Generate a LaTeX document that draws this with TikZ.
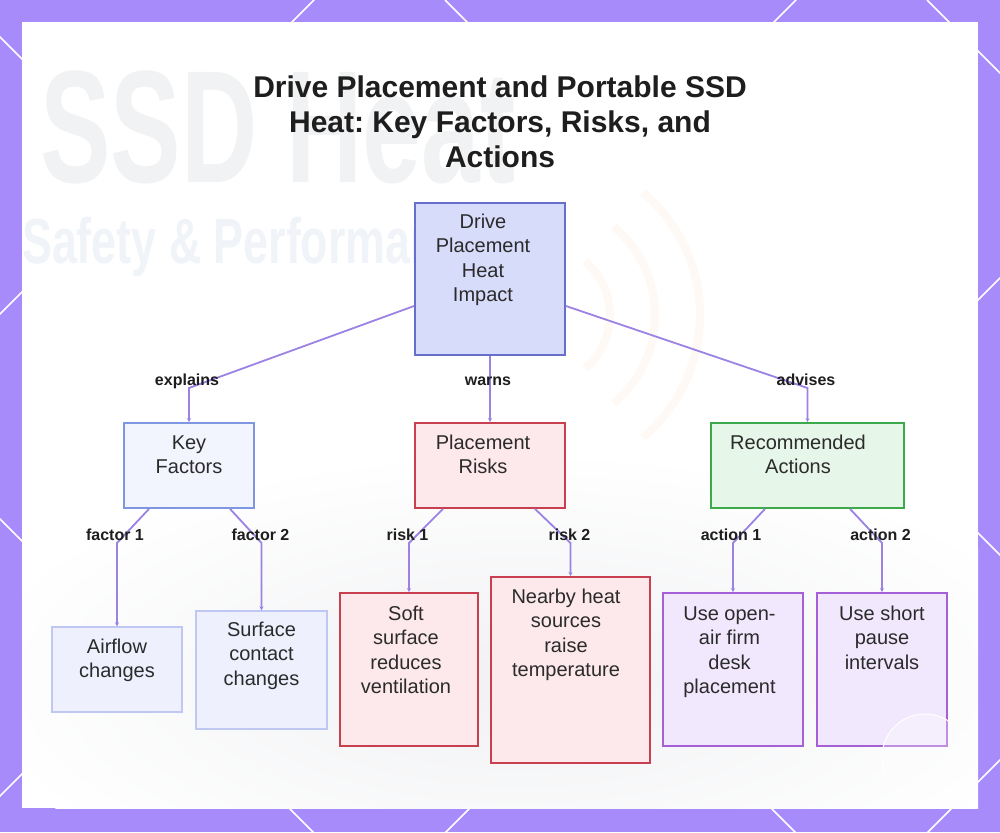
\documentclass[tikz,border=0pt]{standalone}
\usepackage{fontspec}
\setmainfont{Liberation Sans}
\usepackage{graphicx}
\usetikzlibrary{arrows.meta}
\frenchspacing
\definecolor{bgpurple}{HTML}{A78BFA}
\definecolor{textc}{HTML}{2B2B2B}
\definecolor{titlec}{HTML}{1E1E1E}
\definecolor{connc}{HTML}{9B82E4}
\definecolor{rootfill}{HTML}{D8DCFB}
\definecolor{rootdraw}{HTML}{6670CC}
\definecolor{kffill}{HTML}{F3F5FE}
\definecolor{kfdraw}{HTML}{7E97E0}
\definecolor{leaffill}{HTML}{EEF1FD}
\definecolor{leafdraw}{HTML}{BEC8F3}
\definecolor{riskfill}{HTML}{FDE8EC}
\definecolor{riskdraw}{HTML}{C8404F}
\definecolor{actfill}{HTML}{E6F6E8}
\definecolor{actdraw}{HTML}{3CAA4B}
\definecolor{purfill}{HTML}{F1E8FD}
\definecolor{purdraw}{HTML}{A55FD7}
\definecolor{fadegray}{HTML}{F1F2F3}
\definecolor{fadeblue}{HTML}{F0F3F8}
\definecolor{fadeorange}{HTML}{FEF9F4}
\definecolor{fadesurf}{HTML}{F0F1F3}
\tikzset{
  box/.style={draw, line width=1.8pt, inner sep=0pt},
  lightbox/.style={draw, line width=1.4pt, inner sep=0pt},
  txt/.style={font=\fontsize{20}{24.5}\selectfont, align=center, inner sep=0pt, text=textc, anchor=north},
  elabel/.style={font=\bfseries\fontsize{16}{19}\selectfont, inner sep=0pt, anchor=base, text=titlec},
  conn/.style={draw=connc, line width=1.8pt, -{Stealth[length=4pt,width=4pt]}},
  bgline/.style={draw=white, line width=1.6pt}
}
\begin{document}
\begin{tikzpicture}[x=1pt,y=-1pt]
\useasboundingbox (0,0) rectangle (1000,832);
% purple frame with lattice
\fill[bgpurple] (0,0) rectangle (1000,832);
\begin{scope}
  \clip (0,0) rectangle (1000,832);
  \foreach \c in {314,796,1278,1760} \draw[bgline] (\c,0) -- (\c-900,900);
  \foreach \c in {-519,-37,445,927} \draw[bgline] (\c,0) -- (\c+900,900);
\end{scope}
% white panel
\fill[white] (22,22) rectangle (978,808);
% faint background picture
\begin{scope}
  \clip (22,22) rectangle (978,808);
  \shade[inner color=fadesurf, outer color=white] (520,680) ellipse (560 and 230);
  \node[anchor=base west, inner sep=0pt, text=fadegray, font=\bfseries\fontsize{160}{160}\selectfont] (bgtitle) at (40,182) {\scalebox{0.66}[1]{SSD Heat}};
  \node[anchor=base west, inner sep=0pt, text=fadeblue, font=\bfseries\fontsize{64}{64}\selectfont] (bgsub) at (22,263) {\scalebox{0.7}[1]{Safety \& Performance}};
  \foreach \r in {70,115,160}
    \draw[fadeorange, line width=8pt] (540,315) ++(-50:\r) arc (-50:50:\r);
\end{scope}
% title
\node[font=\bfseries\fontsize{30}{35}\selectfont, align=center, anchor=north, inner sep=0pt, text=titlec] (title) at (500,72.5)
  {\strut Drive Placement and Portable SSD\\Heat: Key Factors, Risks, and\\Actions};
% boxes
\node[box, draw=rootdraw, fill=rootfill, minimum width=150pt, minimum height=152pt] (root) at (490,279) {};
\node[box, draw=kfdraw, fill=kffill, minimum width=130pt, minimum height=85pt] (kf) at (189,465.5) {};
\node[box, draw=riskdraw, fill=riskfill, minimum width=150pt, minimum height=85pt] (pr) at (490,465.5) {};
\node[box, draw=actdraw, fill=actfill, minimum width=193pt, minimum height=85pt] (ra) at (807.5,465.5) {};
\node[lightbox, draw=leafdraw, fill=leaffill, minimum width=130pt, minimum height=85pt] (air) at (117,669.5) {};
\node[lightbox, draw=leafdraw, fill=leaffill, minimum width=131pt, minimum height=118pt] (surf) at (261.5,670) {};
\node[box, draw=riskdraw, fill=riskfill, minimum width=138pt, minimum height=153pt] (soft) at (409,669.5) {};
\node[box, draw=riskdraw, fill=riskfill, minimum width=159pt, minimum height=186pt] (near) at (570.5,670) {};
\node[box, draw=purdraw, fill=purfill, minimum width=140pt, minimum height=153pt] (open) at (733,669.5) {};
\node[box, draw=purdraw, fill=purfill, minimum width=130pt, minimum height=153pt] (short) at (882,669.5) {};
% box texts
\node[txt] (rootT) at (483,211) {\strut Drive\\Placement\\Heat\\Impact};
\node[txt] (kfT) at (189,432) {\strut Key\\Factors};
\node[txt] (prT) at (483,432) {\strut Placement\\Risks};
\node[txt] (raT) at (798,432) {\strut Recommended\\Actions};
\node[txt] (airT) at (117,636) {\strut Airflow\\changes};
\node[txt] (surfT) at (261.5,619) {\strut Surface\\contact\\changes};
\node[txt] (softT) at (406,603) {\strut Soft\\surface\\reduces\\ventilation};
\node[txt] (nearT) at (566,586) {\strut Nearby heat\\sources\\raise\\temperature};
\node[txt] (openT) at (729.5,603) {\strut Use open-\\air firm\\desk\\placement};
\node[txt] (shortT) at (882,603) {\strut Use short\\pause\\intervals};
% connectors
\draw[conn] ([yshift=-27pt]root.west) -- (kf.north |- 0,388) -- (kf.north);
\draw[conn] (root.south) -- (pr.north);
\draw[conn] ([yshift=-27pt]root.east) -- (ra.north |- 0,388) -- (ra.north);
\draw[conn] ([xshift=-40pt]kf.south) -- (air.north |- 0,543) -- (air.north);
\draw[conn] ([xshift=41pt]kf.south) -- (surf.north |- 0,543) -- (surf.north);
\draw[conn] ([xshift=-47pt]pr.south) -- (soft.north |- 0,543) -- (soft.north);
\draw[conn] ([xshift=45pt]pr.south) -- (near.north |- 0,543) -- (near.north);
\draw[conn] ([xshift=-42.5pt]ra.south) -- (open.north |- 0,543) -- (open.north);
\draw[conn] ([xshift=42.5pt]ra.south) -- (short.north |- 0,543) -- (short.north);
% edge labels
\node[elabel] (l1) at (187,385) {explains};
\node[elabel] (l2) at (488,385) {warns};
\node[elabel] (l3) at (806,385) {advises};
\node[elabel] (l4) at (115,540) {factor 1};
\node[elabel] (l5) at (260.5,540) {factor 2};
\node[elabel] (l6) at (407.5,540) {risk 1};
\node[elabel] (l7) at (569.5,540) {risk 2};
\node[elabel] (l8) at (731,540) {action 1};
\node[elabel] (l9) at (880.5,540) {action 2};
% watermark circle
\draw[white, line width=1pt, fill=white, fill opacity=0.3] (925,757) circle (43);
\end{tikzpicture}
\end{document}
